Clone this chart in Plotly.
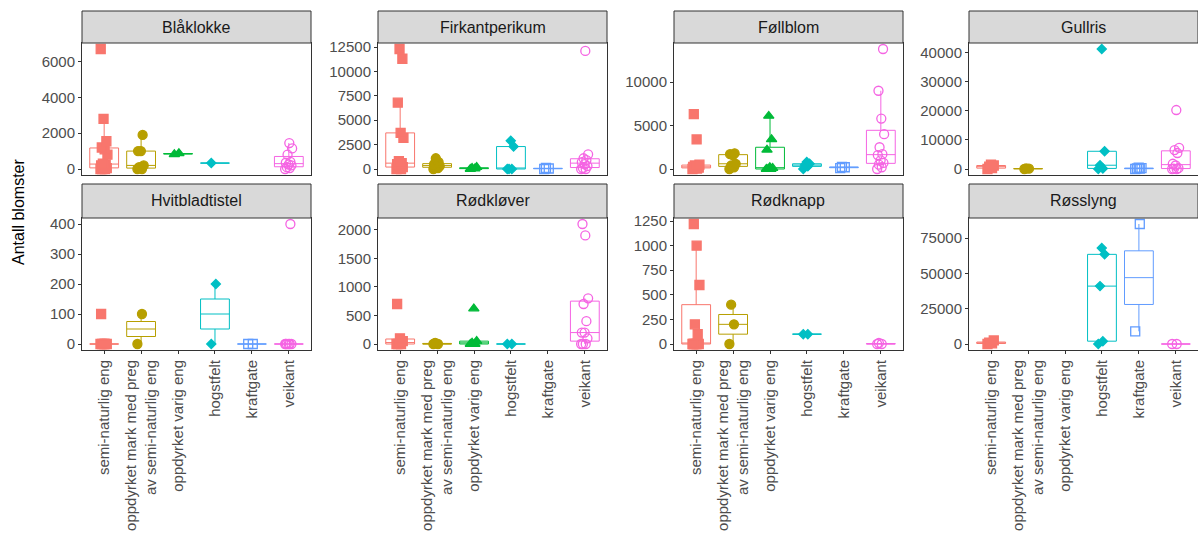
import numpy as np
import plotly.graph_objects as go

# ---------------- data ----------------
categories = ["semi-naturlig eng", "oppdyrket mark med preg av semi-naturlig eng",
              "oppdyrket varig eng", "hogstfelt", "kraftgate", "veikant"]
tick_labels = ["semi-naturlig eng", "oppdyrket mark med preg<br>av semi-naturlig eng",
               "oppdyrket varig eng", "hogstfelt", "kraftgate", "veikant"]
species = ["Blåklokke", "Firkantperikum", "Føllblom", "Gullris",
           "Hvitbladtistel", "Rødkløver", "Rødknapp", "Røsslyng"]

blaaklokke = [
    [0, 0, 0, 50, 100, 200, 250, 300, 800, 1100, 1200, 1550, 2800, 6700],
    [0, 0, 100, 200, 1000, 1000, 1900],
    [820, 880],
    [330],
    [],
    [0, 50, 100, 200, 250, 350, 400, 800, 1150, 1450],
]
firkantperikum = [
    [0, 0, 100, 200, 400, 500, 600, 800, 3200, 3700, 6800, 11300, 12300],
    [0, 100, 200, 300, 400, 500, 700, 1100],
    [0, 50, 100, 200],
    [0, 0, 0, 2300, 2900],
    [0, 50, 100],
    [0, 0, 100, 300, 500, 700, 900, 1100, 1500, 12100],
]
follblom = [
    [0, 50, 100, 150, 200, 250, 300, 400, 500, 3400, 6300],
    [0, 200, 400, 600, 1600, 1700, 1800],
    [0, 0, 0, 100, 200, 2200, 3400, 6100],
    [0, 300, 450, 600, 800],
    [100, 200, 250],
    [0, 200, 500, 700, 1000, 1600, 1700, 2500, 4000, 5800, 9000, 13800],
]
gullris = [
    [0, 300, 800, 1200, 1500],
    [0, 100, 200],
    [],
    [0, 200, 1300, 6100, 41300],
    [0, 100, 200, 300, 500],
    [0, 0, 100, 300, 1200, 1800, 5500, 6500, 7300, 20300],
]
hvitbladtistel = [
    [0, 0, 0, 0, 0, 100],
    [0, 100],
    [],
    [0, 200],
    [0, 0],
    [0, 0, 0, 0, 0, 0, 400],
]
rodklover = [
    [0, 0, 0, 50, 100, 700],
    [0, 0, 20],
    [0, 0, 20, 50, 620],
    [0, 0],
    [],
    [0, 0, 0, 100, 200, 200, 400, 700, 800, 1900, 2100],
]
rodknapp = [
    [0, 0, 0, 0, 0, 0, 100, 200, 600, 1000, 1220],
    [0, 200, 400],
    [],
    [100, 100],
    [],
    [0, 0, 10],
]
rosslyng = [
    [0, 500, 1000, 2500],
    [],
    [],
    [0, 2000, 41000, 63500, 68000],
    [9000, 85000],
    [0, 0],
]
panel_data = [blaaklokke, firkantperikum, follblom, gullris,
              hvitbladtistel, rodklover, rodknapp, rosslyng]

y_ticks = [
    [0, 2000, 4000, 6000],
    [0, 2500, 5000, 7500, 10000, 12500],
    [0, 5000, 10000],
    [0, 10000, 20000, 30000, 40000],
    [0, 100, 200, 300, 400],
    [0, 500, 1000, 1500, 2000],
    [0, 250, 500, 750, 1000, 1250],
    [0, 25000, 50000, 75000],
]

# ---------------- style ----------------
colors = ["#F8766D", "#B79F00", "#00BA38", "#00BFC4", "#619CFF", "#F564E3"]
symbols = ["square", "circle", "triangle-up", "diamond", "square-open", "circle-open"]
msizes = [9, 9, 9, 7, 9, 9]

W, H = 1198, 545
col_left = [82, 378, 674, 969]
panel_w = 229
row_strip_top = [11, 184]
row_plot_top = [43, 218]
row_plot_bot = [175, 350]

FONT = "Liberation Sans, Arial, sans-serif"
TICK_SIZE = 15


def box_stats(vals):
    a = np.asarray(vals, dtype=float)
    q1, med, q3 = np.percentile(a, [25, 50, 75])
    iqr = q3 - q1
    lo = a[a >= q1 - 1.5 * iqr].min()
    hi = a[a <= q3 + 1.5 * iqr].max()
    return q1, med, q3, lo, hi


def jitter_offsets(n, spread=0.1):
    # deterministic small horizontal spread (like geom_jitter)
    k = np.arange(n)
    return ((k * 0.618034) % 1.0 - 0.5) * 2 * spread


fig = go.Figure()
shapes = []
annotations = []

for p, data in enumerate(panel_data):
    r, c = divmod(p, 4)
    ax = "" if p == 0 else str(p + 1)
    xref, yref = "x" + ax, "y" + ax
    allv = [v for grp in data for v in grp]
    lo_all, hi_all = min(allv), max(allv)
    pad = 0.05 * (hi_all - lo_all)
    for i, vals in enumerate(data):
        if not vals:
            continue
        q1, med, q3, lf, uf = box_stats(vals)
        fig.add_trace(go.Box(
            x=[i], q1=[q1], median=[med], q3=[q3], lowerfence=[lf], upperfence=[uf],
            xaxis=xref, yaxis=yref, width=0.78, boxpoints=False,
            line=dict(color=colors[i], width=1),
            fillcolor="rgba(0,0,0,0)", whiskerwidth=0,
            showlegend=False, hoverinfo="skip",
        ))
        xs = i + jitter_offsets(len(vals))
        fig.add_trace(go.Scatter(
            x=xs, y=vals, xaxis=xref, yaxis=yref, mode="markers",
            marker=dict(symbol=symbols[i], size=msizes[i], color=colors[i],
                        line=dict(color=colors[i], width=1.3)),
            showlegend=False, hoverinfo="y",
        ))
    x0 = col_left[c] / W
    x1 = (col_left[c] + panel_w) / W
    y0 = 1 - row_plot_bot[r] / H
    y1 = 1 - row_plot_top[r] / H
    bottom = (r == 1)
    fig.layout["xaxis" + ax] = dict(
        domain=[x0, x1], anchor=yref, range=[-0.6, 5.6],
        tickvals=list(range(len(categories))), ticktext=tick_labels,
        showticklabels=bottom, ticks="outside" if bottom else "", ticklen=3,
        tickcolor="#333333", tickangle=-90, automargin=False,
        tickfont=dict(family=FONT, size=TICK_SIZE, color="#4D4D4D"),
        showline=True, mirror=True, linecolor="#333333", linewidth=1,
        showgrid=False, zeroline=False, fixedrange=True,
    )
    fig.layout["yaxis" + ax] = dict(
        domain=[y0, y1], anchor=xref, range=[lo_all - pad, hi_all + pad],
        tickvals=y_ticks[p], ticktext=[str(v) for v in y_ticks[p]],
        ticks="outside", ticklen=3, tickcolor="#333333", automargin=False,
        tickfont=dict(family=FONT, size=TICK_SIZE, color="#4D4D4D"),
        showline=True, mirror=True, linecolor="#333333", linewidth=1,
        showgrid=False, zeroline=False, fixedrange=True,
    )
    # strip
    sy0 = 1 - row_plot_top[r] / H
    sy1 = 1 - row_strip_top[r] / H
    shapes.append(dict(type="rect", xref="paper", yref="paper",
                       x0=x0, x1=x1, y0=sy0, y1=sy1,
                       fillcolor="#D9D9D9", line=dict(color="#333333", width=1),
                       layer="above"))
    annotations.append(dict(text=species[p], xref="paper", yref="paper",
                            x=(x0 + x1) / 2, y=(sy0 + sy1) / 2,
                            showarrow=False, xanchor="center", yanchor="middle",
                            font=dict(family=FONT, size=16, color="#1A1A1A")))

annotations.append(dict(text="Antall blomster", xref="paper", yref="paper",
                        x=18 / W, y=1 - 212 / H, textangle=-90, showarrow=False,
                        xanchor="center", yanchor="middle",
                        font=dict(family=FONT, size=16, color="#000000")))

fig.update_layout(
    width=W, height=H, margin=dict(l=0, r=0, t=0, b=0, autoexpand=False),
    paper_bgcolor="white", plot_bgcolor="white",
    boxmode="overlay", shapes=shapes, annotations=annotations,
    showlegend=False,
)

fig.write_html("out.html", config={"displayModeBar": False},
               post_script="document.body.style.margin='0px';"
                           "document.body.style.overflow='hidden';")
